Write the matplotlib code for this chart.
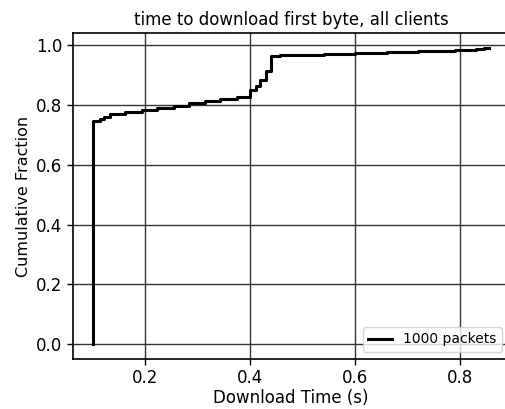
import matplotlib
matplotlib.use("Agg")
import matplotlib.pyplot as plt

# Step CDF points (download time in seconds, cumulative fraction)
times = [0.100, 0.100, 0.114, 0.121, 0.133, 0.162, 0.194, 0.222, 0.254, 0.283,
         0.314, 0.343, 0.375, 0.400, 0.410, 0.419, 0.429, 0.439, 0.457, 0.480,
         0.540, 0.600, 0.660, 0.720, 0.790, 0.830, 0.845, 0.855]
fractions = [0.000, 0.748, 0.753, 0.761, 0.770, 0.777, 0.784, 0.791, 0.797, 0.806,
             0.814, 0.820, 0.826, 0.850, 0.864, 0.883, 0.914, 0.963, 0.967, 0.969,
             0.972, 0.975, 0.978, 0.981, 0.984, 0.987, 0.990, 0.992]
series_label = "1000 packets"
title = "time to download first byte, all clients"
xlabel = "Download Time (s)"
ylabel = "Cumulative Fraction"
xticks = [0.2, 0.4, 0.6, 0.8]
yticks = [0.0, 0.2, 0.4, 0.6, 0.8, 1.0]

plt.rcParams['font.family'] = ['DejaVu Sans']
fig = plt.figure(figsize=(5.06, 4.09), dpi=100)
ax = fig.add_axes([73/506, 1 - 359/409, (509 - 73)/506, (359 - 33)/409])

ax.plot(times, fractions, drawstyle='steps-post', color='black', linewidth=2.2,
        label=series_label)
ax.set_xticks(xticks)
ax.set_yticks(yticks)
ax.grid(True, color='0.2', linewidth=1.0)
ax.set_axisbelow(True)
for s in ax.spines.values():
    s.set_linewidth(1.2)
ax.tick_params(labelsize=12, width=1.0, length=4)
ax.set_title(title, fontsize=12)
ax.set_xlabel(xlabel, fontsize=12, labelpad=1)
ax.set_ylabel(ylabel, fontsize=11.5)
ax.legend(loc='lower right', fontsize=10, handlelength=1.7)

fig.savefig("out.png", dpi=100)
